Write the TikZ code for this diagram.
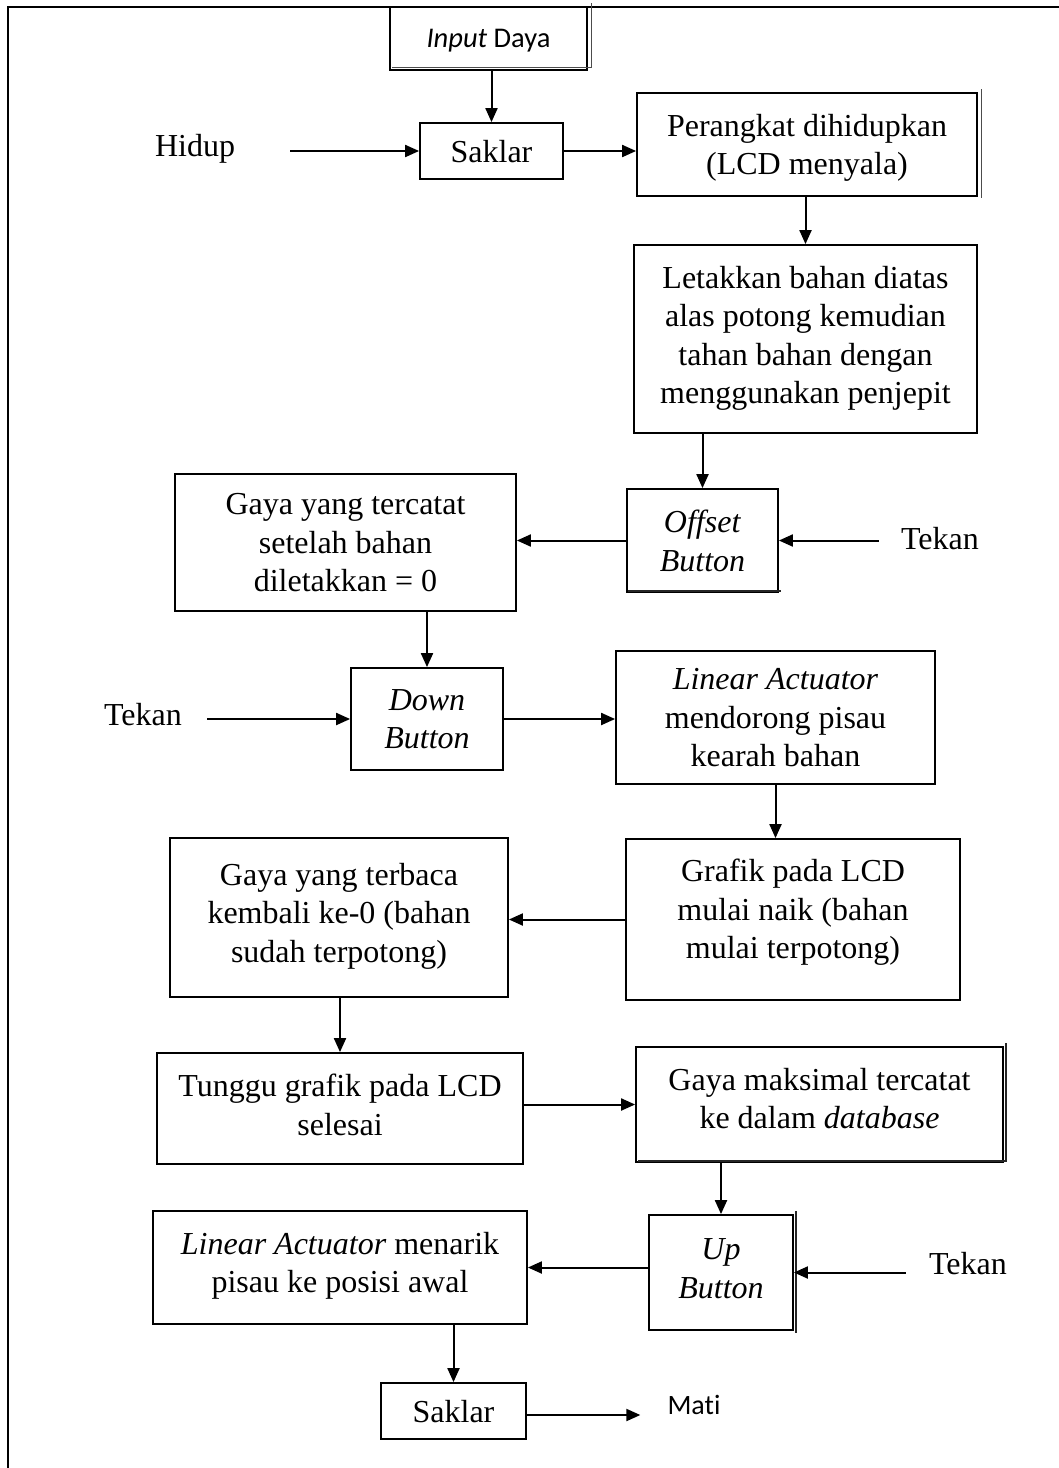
\documentclass[tikz,border=0pt]{standalone}
\usepackage{fontspec}
\setmainfont{Liberation Serif}
\newfontfamily\carl[Ligatures={NoCommon}]{Carlito}
\usetikzlibrary{arrows.meta}
\begin{document}
\begin{tikzpicture}[x=1pt,y=-1pt,
  box/.style={draw,line width=1.8pt,rectangle,inner sep=0pt,align=center,text depth=0pt,
    font=\fontsize{32}{38.5}\selectfont},
  lbl/.style={inner sep=0pt,font=\fontsize{32}{38.5}\selectfont},
  arr/.style={line width=2pt,-{Triangle[length=14pt,width=12pt]}},
  shd/.style={line width=2.2pt,black!85},
  frame/.style={line width=2.2pt}]
\useasboundingbox (0,0) rectangle (1059,1468);
\draw[frame] (8,1468) -- (8,7) -- (1059,7);
% nodes
\node[box,minimum width=197pt,minimum height=63pt,font=\carl\fontsize{28.5}{33}\selectfont] (inp) at (488.5,38.5) {\textit{Input} Daya};
\node[box,minimum width=143pt,minimum height=56pt] (sak1) at (491.5,151) {Saklar};
\node[lbl] (hid) at (195,149) {Hidup};
\node[box,minimum width=340pt,minimum height=103pt] (per) at (807,144.5) {Perangkat dihidupkan\\(LCD menyala)};
\node[box,minimum width=343pt,minimum height=188pt,text depth=8pt] (let) at (805.5,339) {Letakkan bahan diatas\\alas potong kemudian\\tahan bahan dengan\\menggunakan penjepit};
\node[box,minimum width=151pt,minimum height=103pt] (off) at (702.5,540.5) {\textit{Offset}\\\textit{Button}};
\node[lbl] (tek1) at (940,539) {Tekan};
\node[box,minimum width=341pt,minimum height=137pt] (gt) at (345.5,542.5) {Gaya yang tercatat\\setelah bahan\\diletakkan = 0};
\node[box,minimum width=152pt,minimum height=102pt] (down) at (427,719) {\textit{Down}\\\textit{Button}};
\node[lbl] (tek2) at (143,715) {Tekan};
\node[box,minimum width=319pt,minimum height=133pt] (lin) at (775.5,717.5) {\textit{Linear Actuator}\\mendorong pisau\\kearah bahan};
\node[box,minimum width=334pt,minimum height=161pt,text depth=21pt] (gra) at (793,919.5) {Grafik pada LCD\\mulai naik (bahan\\mulai terpotong)};
\node[box,minimum width=338pt,minimum height=159pt,text depth=10pt] (gb) at (339,917.5) {Gaya yang terbaca\\kembali ke-0 (bahan\\sudah terpotong)};
\node[box,minimum width=366pt,minimum height=111pt,text depth=8pt] (tun) at (340,1108.5) {Tunggu grafik pada LCD\\selesai};
\node[box,minimum width=367pt,minimum height=115pt,text depth=12pt] (mak) at (819.5,1104.5) {Gaya maksimal tercatat\\ke dalam \textit{database}};
\node[box,minimum width=144pt,minimum height=115pt,text depth=8pt] (up) at (721,1272.5) {\textit{Up}\\\textit{Button}};
\node[lbl] (tek3) at (968,1264) {Tekan};
\node[box,minimum width=374pt,minimum height=113pt,text depth=10pt] (men) at (340,1267.5) {\textit{Linear Actuator} menarik\\pisau ke posisi awal};
\node[box,minimum width=145pt,minimum height=56pt] (sak2) at (453.5,1411) {Saklar};
\node[inner sep=0pt,font=\carl\fontsize{28}{32}\selectfont] (mati) at (694,1405) {Mati};
% shadows
\draw[line width=1.2pt,black!70] ([xshift=3.5pt,yshift=3pt]inp.north east) -- ([xshift=3.5pt,yshift=3.5pt]inp.south east) -- ([xshift=3pt,yshift=3.5pt]inp.south west);
\draw[line width=1.2pt,black!70] ([xshift=3.5pt,yshift=3pt]per.north east) -- ([xshift=3.5pt,yshift=-1pt]per.south east);
\draw[shd] ([xshift=2pt,yshift=2pt]off.south west) -- ([xshift=2pt,yshift=2pt]off.south east);
\draw[shd] ([xshift=2pt,yshift=3pt]up.north east) -- ([xshift=2pt,yshift=-2pt]up.south east);
\draw[shd] ([xshift=2pt,yshift=3pt]mak.north east) -- ([xshift=2pt,yshift=2pt]mak.south east) -- ([xshift=3pt,yshift=2pt]mak.south west);
% connectors
\draw[arr] (inp.south -| sak1.north) -- (sak1.north);
\draw[arr,shorten <=55pt] (hid.east |- sak1.west) -- (sak1.west);
\draw[arr] (sak1.east) -- (sak1.east -| per.west);
\draw[arr] (per.south -| let.north) -- (let.north);
\draw[arr] (let.south -| off.north) -- (off.north);
\draw[arr,shorten <=22pt] (tek1.west |- off.east) -- (off.east);
\draw[arr] (off.west) -- (off.west -| gt.east);
\draw[arr] (gt.south -| down.north) -- (down.north);
\draw[arr,shorten <=25pt] (tek2.east |- down.west) -- (down.west);
\draw[arr] (down.east) -- (down.east -| lin.west);
\draw[arr] (lin.south) -- (lin.south |- gra.north);
\draw[arr] (gra.west) -- (gra.west -| gb.east);
\draw[arr] (gb.south -| tun.north) -- (tun.north);
\draw[arr] (tun.east |- mak.west) -- (mak.west);
\draw[arr] (mak.south -| up.north) -- (up.north);
\draw[arr,shorten <=23pt] (tek3.west |- up.east) -- (up.east);
\draw[arr] (up.west |- men.east) -- (men.east);
\draw[arr] (men.south -| sak2.north) -- (sak2.north);
\draw[arr,shorten >=27pt] ([yshift=-4pt]sak2.east) -- ([yshift=-4pt]sak2.east -| mati.west);
\end{tikzpicture}
\end{document}
